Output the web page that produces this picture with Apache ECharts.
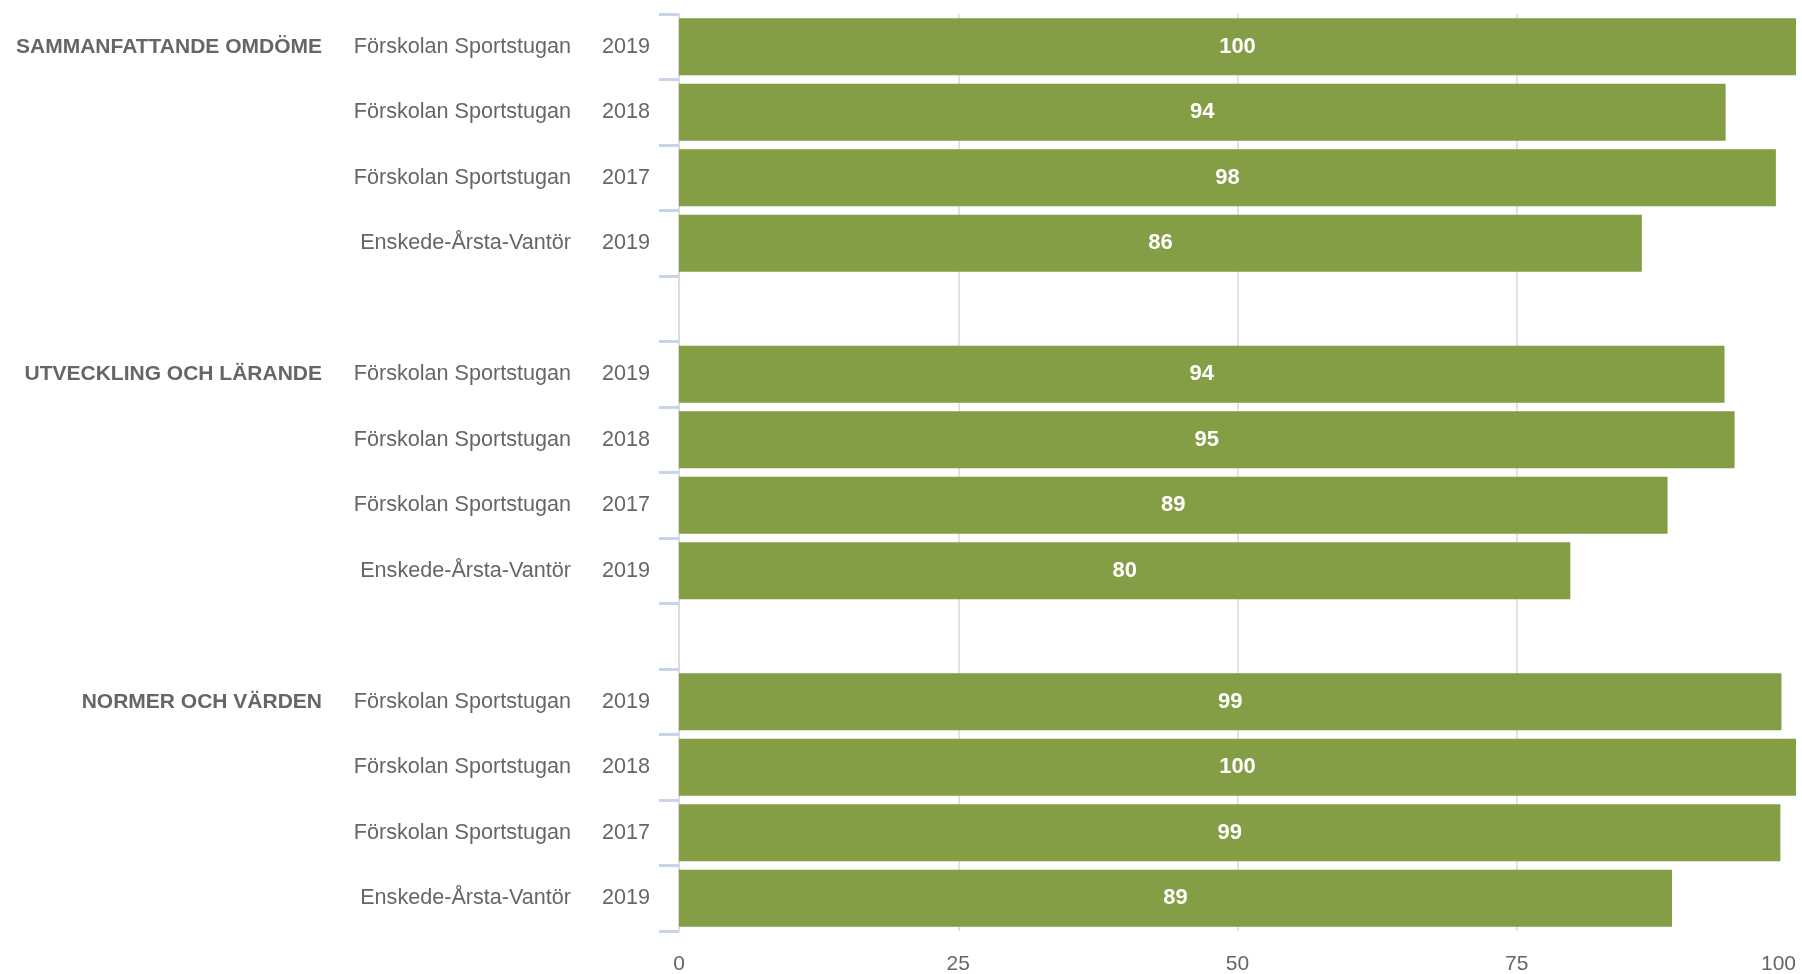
<!DOCTYPE html>
<html>
<head>
<meta charset="utf-8">
<title>Omdöme</title>
<script src="https://cdn.jsdelivr.net/npm/echarts@6/dist/echarts.min.js"></script>
<style>
  html, body { margin: 0; padding: 0; background: #fff; }
  #chart { width: 1802px; height: 974px; }
</style>
</head>
<body>
<div id="chart"></div>
<script>
// rader uppifrån och ned, tomma rader = mellanrum mellan grupperna
const groups = ["SAMMANFATTANDE OMDÖME", "", "", "", "", "UTVECKLING OCH LÄRANDE", "", "", "", "", "NORMER OCH VÄRDEN", "", "", ""];
const units = ["Förskolan Sportstugan", "Förskolan Sportstugan", "Förskolan Sportstugan", "Enskede-Årsta-Vantör", "",
  "Förskolan Sportstugan", "Förskolan Sportstugan", "Förskolan Sportstugan", "Enskede-Årsta-Vantör", "",
  "Förskolan Sportstugan", "Förskolan Sportstugan", "Förskolan Sportstugan", "Enskede-Årsta-Vantör"];
const years = ["2019", "2018", "2017", "2019", "", "2019", "2018", "2017", "2019", "", "2019", "2018", "2017", "2019"];
const values = [100, 93.7, 98.2, 86.2, null, 93.6, 94.5, 88.5, 79.8, null, 98.7, 100, 98.6, 88.9];
const xTicks = [0, 25, 50, 75, 100];

const categories = groups.map((g, i) => i); // index som kategori, texten byggs i formatter

const chart = echarts.init(document.getElementById("chart"));
const option = {
  animation: false,
  grid: { left: 679, right: 6, top: 14, bottom: 43, containLabel: false, outerBoundsMode: "none" },
  xAxis: {
    type: "value",
    min: xTicks[0],
    max: xTicks[xTicks.length - 1],
    interval: 25,
    axisLine: { show: false },
    axisTick: { show: false },
    splitLine: { showMaxLine: false, lineStyle: { color: "#e2e2e2", width: 2 } },
    axisLabel: {
      color: "#666666",
      fontFamily: "Liberation Sans",
      fontSize: 21,
      margin: 23,
      alignMaxLabel: "right",
      formatter: (v) => (xTicks.includes(v) ? String(v) : ""),
    },
  },
  yAxis: {
    type: "category",
    inverse: true,
    data: categories,
    axisLine: { show: true, lineStyle: { color: "#dcdcdc", width: 2 } },
    axisTick: { show: true, length: 20, lineStyle: { color: "#c9d4ea", width: 3 } },
    axisLabel: {
      margin: 29,
      interval: 0,
      fontFamily: "Liberation Sans",
      formatter: (i) => {
        const idx = Number(i);
        if (!units[idx]) return "";
        return "{g|" + groups[idx] + "}{n|" + units[idx] + "}{y|" + years[idx] + "}";
      },
      rich: {
        g: { width: 320, align: "right", fontWeight: "bold", fontSize: 21, color: "#666666", fontFamily: "Liberation Sans" },
        n: { width: 249, align: "right", fontSize: 21.6, color: "#666666", fontFamily: "Liberation Sans" },
        y: { width: 79, align: "right", fontSize: 21.6, color: "#666666", fontFamily: "Liberation Sans" },
      },
    },
  },
  series: [
    {
      type: "bar",
      data: values,
      barWidth: 57,
      itemStyle: { color: "#839e45" },
      label: {
        show: true,
        position: "inside",
        color: "#ffffff",
        fontWeight: "bold",
        fontSize: 22,
        fontFamily: "Liberation Sans",
        formatter: (p) => Math.round(p.value),
      },
    },
  ],
};
chart.setOption(option);
</script>
</body>
</html>
